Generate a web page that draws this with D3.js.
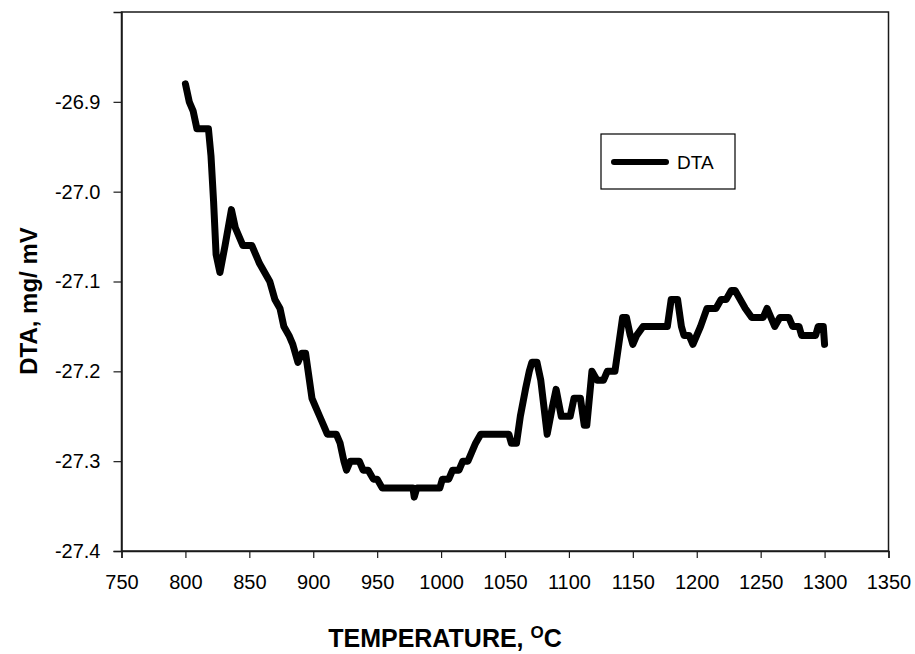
<!DOCTYPE html>
<html>
<head>
<meta charset="utf-8">
<script src="https://cdn.jsdelivr.net/npm/d3@7"></script>
<style>
  html, body { margin: 0; padding: 0; background: #fff; }
  svg { display: block; }
  text { font-family: "Liberation Sans", Arial, sans-serif; fill: #000; }
</style>
</head>
<body>
<svg id="chart" width="915" height="654"></svg>
<script>
const temperature = [800, 803, 806, 809, 818, 820, 822, 824, 827, 831, 836, 839, 842, 845, 852, 855, 858, 862, 866, 870,
  874, 877, 881, 884, 888, 891, 894, 896, 899, 902, 905, 908, 911, 918, 921, 924, 926, 929, 936, 939,
  943, 947, 950, 954, 978, 979, 981, 999, 1001, 1006, 1009, 1014, 1017, 1021, 1024, 1027, 1031, 1053, 1055, 1059,
  1062, 1066, 1069, 1071, 1075, 1078, 1083, 1087, 1090, 1094, 1101, 1104, 1109, 1112, 1114, 1118, 1122, 1127, 1130, 1136,
  1139, 1142, 1145, 1148, 1150, 1153, 1158, 1177, 1180, 1185, 1188, 1190, 1194, 1197, 1200, 1203, 1208, 1215, 1219, 1223,
  1227, 1230, 1234, 1238, 1243, 1252, 1255, 1258, 1261, 1265, 1272, 1275, 1280, 1282, 1293, 1295, 1299, 1300];
const dta = [-26.88, -26.90, -26.91, -26.93, -26.93, -26.96, -27.01, -27.07, -27.09, -27.06, -27.02, -27.04, -27.05, -27.06, -27.06, -27.07, -27.08, -27.09, -27.10, -27.12,
  -27.13, -27.15, -27.16, -27.17, -27.19, -27.18, -27.18, -27.20, -27.23, -27.24, -27.25, -27.26, -27.27, -27.27, -27.28, -27.30, -27.31, -27.30, -27.30, -27.31,
  -27.31, -27.32, -27.32, -27.33, -27.33, -27.34, -27.33, -27.33, -27.32, -27.32, -27.31, -27.31, -27.30, -27.30, -27.29, -27.28, -27.27, -27.27, -27.28, -27.28,
  -27.25, -27.22, -27.20, -27.19, -27.19, -27.21, -27.27, -27.24, -27.22, -27.25, -27.25, -27.23, -27.23, -27.26, -27.26, -27.20, -27.21, -27.21, -27.20, -27.20,
  -27.17, -27.14, -27.14, -27.16, -27.17, -27.16, -27.15, -27.15, -27.12, -27.12, -27.15, -27.16, -27.16, -27.17, -27.16, -27.15, -27.13, -27.13, -27.12, -27.12,
  -27.11, -27.11, -27.12, -27.13, -27.14, -27.14, -27.13, -27.14, -27.15, -27.14, -27.14, -27.15, -27.15, -27.16, -27.16, -27.15, -27.15, -27.17];
const xTicks = [750, 800, 850, 900, 950, 1000, 1050, 1100, 1150, 1200, 1250, 1300, 1350];
const yTicks = [-27.4, -27.3, -27.2, -27.1, -27.0, -26.9];
const seriesName = "DTA";
const xTitle = "TEMPERATURE, ";
const xTitleSup = "O";
const xTitleEnd = "C";
const yTitle = "DTA, mg/ mV";

(function () {
const svg = d3.select("#chart");
const pL = 121.5, pR = 888.5, pT = 12, pB = 551;

const x = d3.scaleLinear().domain([750, 1350]).range([pL, pR]);
const y = d3.scaleLinear().domain([-27.4, -26.8]).range([pB, pT]);

// frame
svg.append("rect")
  .attr("x", pL).attr("y", pT)
  .attr("width", pR - pL).attr("height", pB - pT)
  .attr("fill", "none").attr("stroke", "#1a1a1a").attr("stroke-width", 1.5);

// x axis
const xAxis = d3.axisBottom(x).tickValues(xTicks).tickSize(7).tickPadding(17).tickFormat(d3.format("d"));
const gx = svg.append("g").attr("transform", `translate(0,${pB})`).call(xAxis);
gx.select(".domain").attr("stroke", "#1a1a1a").attr("stroke-width", 1.5);
gx.selectAll(".tick line").attr("stroke", "#1a1a1a").attr("stroke-width", 1.2);
gx.selectAll("text").style("font-size", "20px").style("font-family", '"Liberation Sans", Arial, sans-serif').attr("fill", "#000");

// y axis
const fmtY = d => d3.format(".1f")(d).replace("\u2212", "-");
const yAxis = d3.axisLeft(y).tickValues(yTicks).tickSize(8).tickPadding(13).tickFormat(fmtY);
const gy = svg.append("g").attr("transform", `translate(${pL},0)`).call(yAxis);
gy.select(".domain").attr("stroke", "#1a1a1a").attr("stroke-width", 1.5);
gy.selectAll(".tick line").attr("stroke", "#1a1a1a").attr("stroke-width", 1.2);
gy.selectAll("text").style("font-size", "20px").style("font-family", '"Liberation Sans", Arial, sans-serif').attr("fill", "#000");

// data line
const data = temperature.map((t, i) => ({ t, v: dta[i] }));
const line = d3.line().x(d => x(d.t)).y(d => y(d.v));
svg.append("path")
  .datum(data)
  .attr("d", line)
  .attr("fill", "none")
  .attr("stroke", "#000")
  .attr("stroke-width", 7)
  .attr("stroke-linejoin", "round")
  .attr("stroke-linecap", "round");

// legend
const lg = svg.append("g");
lg.append("rect").attr("x", 601).attr("y", 134).attr("width", 134).attr("height", 55)
  .attr("fill", "#fff").attr("stroke", "#000").attr("stroke-width", 1.2);
lg.append("line").attr("x1", 614).attr("x2", 666).attr("y1", 162).attr("y2", 162)
  .attr("stroke", "#000").attr("stroke-width", 6).attr("stroke-linecap", "round");
lg.append("text").attr("x", 677).attr("y", 169).style("font-size", "19px").text(seriesName);

// axis titles
const xt = svg.append("text")
  .attr("x", 445).attr("y", 647)
  .attr("text-anchor", "middle")
  .style("font-size", "25px").style("font-weight", "bold");
xt.append("tspan").text(xTitle);
xt.append("tspan").attr("dy", -9).style("font-size", "17px").text(xTitleSup);
xt.append("tspan").attr("dy", 9).text(xTitleEnd);

svg.append("text")
  .attr("transform", `translate(37,301) rotate(-90)`)
  .attr("text-anchor", "middle")
  .style("font-size", "24px").style("font-weight", "bold")
  .text(yTitle);
})();
</script>
</body>
</html>
